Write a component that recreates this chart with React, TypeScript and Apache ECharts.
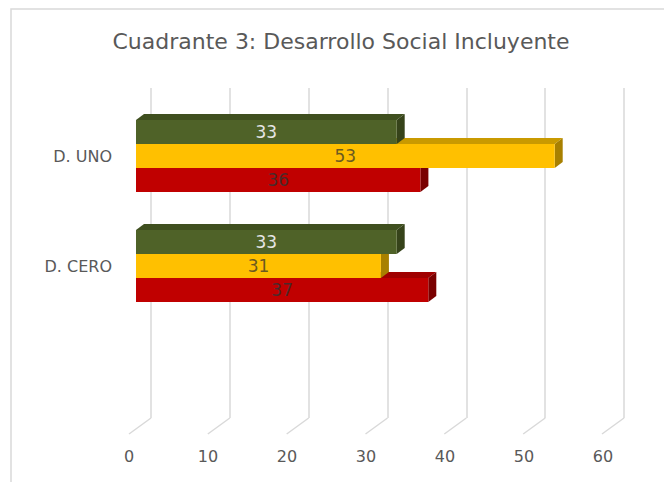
import React, { useEffect, useRef } from "react";
import * as echarts from "echarts";

const titleText = "Cuadrante 3: Desarrollo Social Incluyente";
const categories = ["D. UNO", "D. CERO"];
const seriesNames = ["Verde", "Amarillo", "Rojo"];
const greenValues = [33, 33];
const yellowValues = [53, 31];
const redValues = [36, 37];
const xTicks = [0, 10, 20, 30, 40, 50, 60];

const FONT = "DejaVu Sans";
const GREY = "#595959";

const palettes = [
  { front: "#4f6228", top: "#3f4f1f", side: "#36431a", label: "#e6e6e6" },
  { front: "#ffc000", top: "#c99a00", side: "#a88000", label: "#6b5a20" },
  { front: "#c00000", top: "#a00000", side: "#7a0000", label: "#4a2a2a" },
];

function bar3DSeries(slot: number, name: string, values: number[]) {
  const pal = palettes[slot];
  return {
    type: "custom",
    name,
    xAxisIndex: 1,
    yAxisIndex: 1,
    encode: { x: 0, y: 1 },
    data: values.map((v, i) => [v, i]),
    renderItem: (params: any, api: any) => {
      const val = api.value(0);
      const cat = api.value(1);
      const start = api.coord([0, cat]);
      const end = api.coord([val, cat]);
      const band = api.size([0, 1])[1];
      const h = band * 0.218;
      const dx = 8;
      const dy = -6;
      const x0 = start[0];
      const x1 = end[0];
      const yTop = start[1] - 1.5 * h + slot * h;
      return {
        type: "group",
        children: [
          {
            type: "polygon",
            shape: {
              points: [
                [x0, yTop],
                [x0 + dx, yTop + dy],
                [x1 + dx, yTop + dy],
                [x1, yTop],
              ],
            },
            style: { fill: pal.top },
          },
          {
            type: "polygon",
            shape: {
              points: [
                [x1, yTop],
                [x1 + dx, yTop + dy],
                [x1 + dx, yTop + h + dy],
                [x1, yTop + h],
              ],
            },
            style: { fill: pal.side },
          },
          {
            type: "rect",
            shape: { x: x0, y: yTop, width: x1 - x0, height: h },
            style: { fill: pal.front },
          },
          {
            type: "text",
            x: (x0 + x1) / 2,
            y: yTop + h / 2,
            style: {
              text: String(val),
              fill: pal.label,
              font: `17px "${FONT}"`,
              align: "center",
              verticalAlign: "middle",
            },
          },
        ],
      };
    },
  };
}

export default function App() {
  const ref = useRef<HTMLDivElement>(null);
  useEffect(() => {
    document.body.style.margin = "0";
    const chart = echarts.init(ref.current!, null, { renderer: "svg" });
    const minX = xTicks[0];
    const maxX = xTicks[xTicks.length - 1];
    const interval = xTicks[1] - xTicks[0];
    chart.setOption({
      animation: false,
      backgroundColor: "#ffffff",
      textStyle: { fontFamily: FONT },
      title: {
        text: titleText,
        left: 341,
        top: 30,
        padding: 0,
        textAlign: "center",
        textStyle: { fontFamily: FONT, fontSize: 22, fontWeight: "normal", color: GREY },
      },
      graphic: [
        {
          type: "rect",
          z: -10,
          shape: { x: 11, y: 9, width: 700, height: 520 },
          style: { fill: "none", stroke: "#d9d9d9", lineWidth: 1.5 },
        },
      ],
      grid: [
        { left: 151, top: 88, width: 473, height: 330 },
        { left: 136, top: 101, width: 474, height: 220 },
        { left: 129, top: 88, width: 474, height: 346 },
      ],
      xAxis: [
        {
          gridIndex: 0,
          type: "value",
          min: minX,
          max: maxX,
          interval,
          axisLine: { show: false },
          axisTick: { show: false },
          axisLabel: { show: false },
          splitLine: { show: true, lineStyle: { color: "#d9d9d9", width: 1.5 } },
        },
        { gridIndex: 1, type: "value", min: minX, max: maxX, interval, show: false },
        {
          gridIndex: 2,
          type: "value",
          min: minX,
          max: maxX,
          interval,
          axisLine: { show: false },
          axisTick: { show: false },
          splitLine: { show: false },
          axisLabel: { color: GREY, fontSize: 16, fontFamily: FONT, margin: 14 },
        },
      ],
      yAxis: [
        { gridIndex: 0, type: "value", min: 0, max: 1, show: false },
        {
          gridIndex: 1,
          type: "category",
          data: categories,
          inverse: true,
          axisLine: { show: false },
          axisTick: { show: false },
          splitLine: { show: false },
          axisLabel: {
            color: GREY,
            fontSize: 16,
            fontFamily: FONT,
            margin: 24,
            padding: [7, 0, 0, 0],
          },
        },
        { gridIndex: 2, type: "value", min: 0, max: 1, show: false },
      ],
      series: [
        {
          type: "custom",
          name: "floor",
          xAxisIndex: 0,
          yAxisIndex: 0,
          silent: true,
          data: xTicks.map((v) => [v, 0]),
          renderItem: (params: any, api: any) => {
            const p = api.coord([api.value(0), 0]);
            return {
              type: "line",
              shape: { x1: p[0], y1: p[1], x2: p[0] - 22, y2: p[1] + 16 },
              style: { stroke: "#d9d9d9", lineWidth: 1.5 },
            };
          },
        },
        bar3DSeries(2, seriesNames[2], redValues),
        bar3DSeries(1, seriesNames[1], yellowValues),
        bar3DSeries(0, seriesNames[0], greenValues),
      ],
    });
    return () => chart.dispose();
  }, []);
  return (
    <div
      ref={ref}
      style={{ position: "absolute", left: 0, top: 0, width: 664, height: 482 }}
    />
  );
}
